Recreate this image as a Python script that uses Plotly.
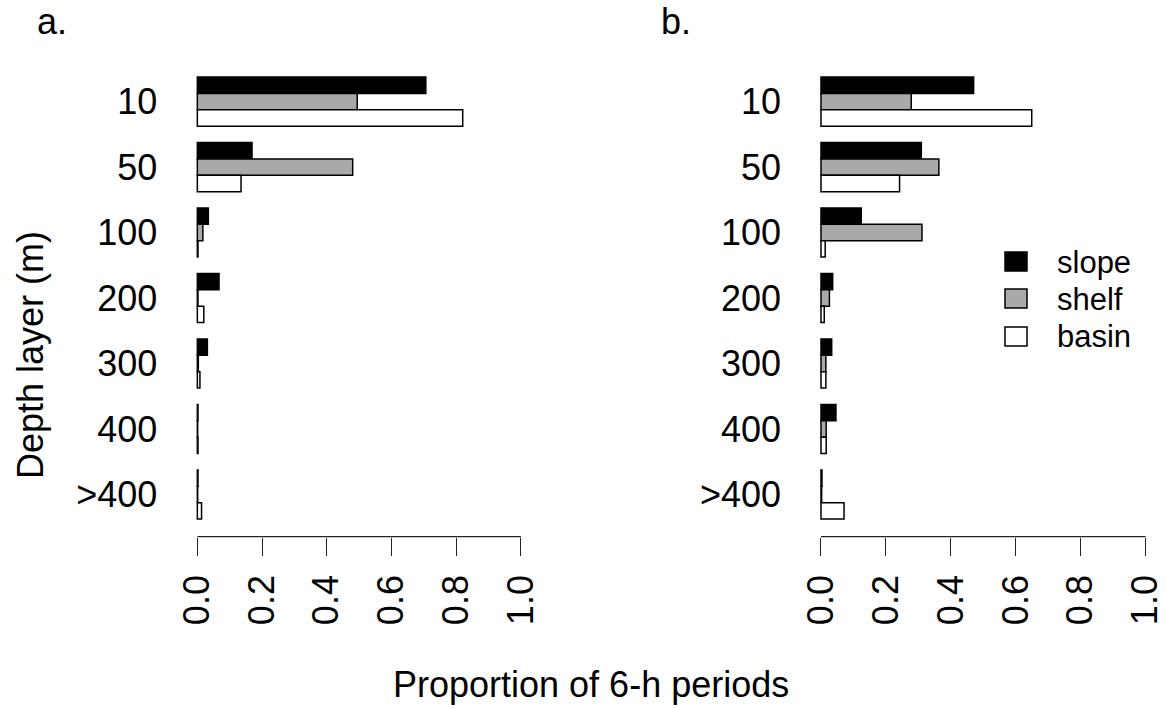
import plotly.graph_objects as go

W, H = 1167, 709

depth_layers = ["10", "50", "100", "200", "300", "400", ">400"]
x_ticks = [0.0, 0.2, 0.4, 0.6, 0.8, 1.0]
x_tick_labels = ["0.0", "0.2", "0.4", "0.6", "0.8", "1.0"]

# panel a: proportion of 6-h periods per depth layer
a_slope = [0.706, 0.169, 0.034, 0.067, 0.031, 0.002, 0.002]
a_shelf = [0.494, 0.480, 0.017, 0.002, 0.003, 0.001, 0.001]
a_basin = [0.820, 0.135, 0.002, 0.020, 0.008, 0.002, 0.013]

# panel b
b_slope = [0.470, 0.309, 0.124, 0.036, 0.033, 0.046, 0.003]
b_shelf = [0.278, 0.363, 0.311, 0.026, 0.015, 0.016, 0.002]
b_basin = [0.649, 0.242, 0.013, 0.010, 0.015, 0.016, 0.071]

habitats = ["slope", "shelf", "basin"]
fills = {"slope": "#000000", "shelf": "#A9A9A9", "basin": "#FFFFFF"}

FONT = "Liberation Sans, Arial, sans-serif"
FS = 36


def px_x(v):
    return v / W


def px_y(v):
    return 1 - v / H


fig = go.Figure()

panels = [
    ("x", "y", {"slope": a_slope, "shelf": a_shelf, "basin": a_basin}),
    ("x2", "y2", {"slope": b_slope, "shelf": b_shelf, "basin": b_basin}),
]
for xa, ya, series in panels:
    for h in habitats:
        fig.add_trace(go.Bar(
            x=series[h], y=depth_layers, orientation="h", name=h,
            xaxis=xa, yaxis=ya, showlegend=False,
            marker=dict(color=fills[h], line=dict(color="#000000", width=1.5)),
        ))

y_dom = [px_y(536.7), px_y(59.3)]
x_range = [-0.04, 1.04]

xaxis_common = dict(
    range=x_range, tickvals=x_ticks, ticktext=x_tick_labels,
    ticks="outside", ticklen=18, tickwidth=1.3, tickcolor="#222222",
    tickangle=-90, tickfont=dict(size=FS, family=FONT, color="#000000"),
    ticklabelstandoff=5, automargin=False,
    showline=False, showgrid=False, zeroline=False,
)
yaxis_common = dict(
    type="category", categoryorder="array", categoryarray=depth_layers,
    range=[6.645, -0.646], domain=y_dom, automargin=False,
    showline=False, showgrid=False, zeroline=False, ticks="",
    tickfont=dict(size=FS, family=FONT, color="#000000"),
    ticklabelstandoff=26,
)

fig.update_layout(
    width=W, height=H,
    margin=dict(l=0, r=0, t=0, b=0),
    paper_bgcolor="white", plot_bgcolor="white",
    barmode="group", bargap=0.25, bargroupgap=0,
    showlegend=False,
    xaxis=dict(domain=[px_x(184.4), px_x(533.9)], anchor="y", **xaxis_common),
    yaxis=dict(anchor="x", **yaxis_common),
    xaxis2=dict(domain=[px_x(808.0), px_x(1158.7)], anchor="y2", **xaxis_common),
    yaxis2=dict(anchor="x2", **yaxis_common),
)

shapes = []
# axis lines spanning only the tick range
for xref, yref in [("x", "y domain"), ("x2", "y2 domain")]:
    shapes.append(dict(type="line", xref=xref, yref=yref, x0=0, x1=1, y0=0, y1=0,
                       line=dict(color="#222222", width=1.3)))

# legend keys
legend_rows = [("slope", 252, 271, 262), ("shelf", 289, 308, 299), ("basin", 327, 346, 337)]
annotations = []
for name, top, bot, mid in legend_rows:
    shapes.append(dict(type="rect", xref="paper", yref="paper",
                       x0=px_x(1005), x1=px_x(1027), y0=px_y(bot), y1=px_y(top),
                       fillcolor=fills[name], line=dict(color="#000000", width=1.5)))
    annotations.append(dict(text=name, x=px_x(1055), y=px_y(mid), xref="paper", yref="paper",
                            xanchor="left", yanchor="middle", showarrow=False,
                            font=dict(size=31, family=FONT, color="#000000")))

annotations += [
    dict(text="a.", x=px_x(35), y=px_y(22), xref="paper", yref="paper",
         xanchor="left", yanchor="middle", showarrow=False,
         font=dict(size=FS, family=FONT, color="#000000")),
    dict(text="b.", x=px_x(659), y=px_y(22), xref="paper", yref="paper",
         xanchor="left", yanchor="middle", showarrow=False,
         font=dict(size=FS, family=FONT, color="#000000")),
    dict(text="Depth layer (m)", x=px_x(30), y=px_y(355), xref="paper", yref="paper",
         xanchor="center", yanchor="middle", textangle=-90, showarrow=False,
         font=dict(size=FS, family=FONT, color="#000000")),
    dict(text="Proportion of 6-h periods", x=px_x(591), y=px_y(684), xref="paper", yref="paper",
         xanchor="center", yanchor="middle", showarrow=False,
         font=dict(size=FS, family=FONT, color="#000000")),
]

fig.update_layout(shapes=shapes, annotations=annotations)

fig.write_html("out.html")
